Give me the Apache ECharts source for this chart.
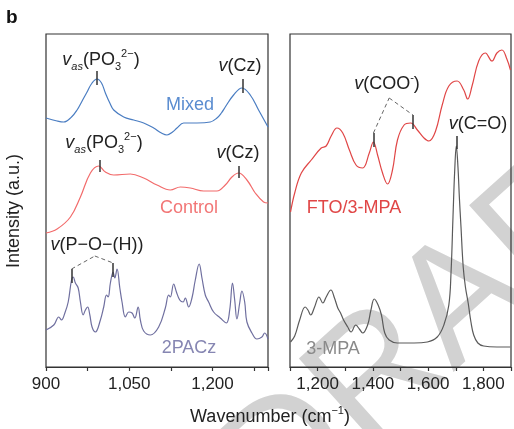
<!DOCTYPE html>
<html><head><meta charset="utf-8">
<script src="https://cdn.jsdelivr.net/npm/echarts@6/dist/echarts.min.js"></script>
<style>html,body{margin:0;padding:0;background:#fff}#c{width:514px;height:429px}</style>
</head><body><div id="c"></div>
<script>
const FONT = "'Liberation Sans', Arial, Helvetica, sans-serif";

// ---------- data (wavenumber cm^-1, intensity a.u. with vertical offsets) ----------
const mixed = [[900,249],[920,246],[932,245],[946,250],[956,257],[966,267],[974,275],[983,284],[992,288],[1000,284],[1007,274],[1015,264],[1022,257],[1040,250],[1058,247],[1076,244],[1094,239],[1108,234],[1118,232],[1128,235],[1136,239],[1148,244],[1172,244],[1196,245],[1208,249],[1216,254],[1223,260],[1238,272],[1253,279],[1268,272],[1283,257],[1300,240]];
const control = [[900,134],[920,138],[944,150],[962,170],[980,194],[995,201],[1007,195],[1022,192],[1052,193],[1076,189],[1100,182],[1124,177],[1142,180],[1160,179],[1184,176],[1208,176],[1223,182],[1235,190],[1247,194],[1262,187],[1277,174],[1292,165],[1300,164]];
const pacz = [[900,37],[914,42],[923,50],[928,47],[934,54],[940,65],[946,87],[949,90],[953,84],[958,79],[962,65],[967,52],[971,57],[975,60],[979,52],[983,40],[989,35],[998,47],[1004,60],[1009,72],[1012,70],[1016,84],[1021,95],[1024,89],[1028,98],[1033,79],[1037,65],[1043,50],[1049,55],[1055,54],[1060,49],[1066,60],[1070,47],[1076,36],[1088,32],[1103,40],[1115,59],[1121,72],[1124,70],[1130,83],[1135,75],[1141,67],[1147,65],[1151,69],[1157,60],[1163,69],[1169,87],[1176,103],[1181,89],[1187,72],[1193,65],[1202,55],[1214,49],[1225,44],[1231,57],[1236,84],[1240,67],[1244,48],[1249,64],[1253,76],[1258,65],[1262,45],[1271,34],[1280,28],[1289,30],[1294,34],[1300,28]];
const ftoMpa = [[1102,155],[1117,174],[1141,194],[1177,207],[1213,219],[1231,221],[1249,231],[1270,239],[1291,234],[1315,217],[1339,202],[1363,199],[1387,214],[1402,225],[1417,212],[1435,194],[1453,183],[1471,197],[1489,227],[1513,242],[1537,244],[1561,237],[1585,229],[1603,226],[1627,236],[1651,262],[1675,281],[1705,286],[1729,277],[1743,268],[1759,281],[1783,306],[1807,314],[1831,306],[1849,314],[1867,317],[1885,308],[1898,297]];
const mpa = [[1102,25],[1117,31],[1135,47],[1155,60],[1165,57],[1175,52],[1189,60],[1205,70],[1219,64],[1231,70],[1248,77],[1261,69],[1273,59],[1283,54],[1294,47],[1309,40],[1321,35],[1338,42],[1351,38],[1363,34],[1381,42],[1393,57],[1405,68],[1419,62],[1431,52],[1443,34],[1459,27],[1489,24],[1549,24],[1597,25],[1633,30],[1657,42],[1675,62],[1683,95],[1690,150],[1696,195],[1702,221],[1708,200],[1713,170],[1719,140],[1727,100],[1735,80],[1745,64],[1755,45],[1765,32],[1780,24],[1801,21],[1849,20],[1897,20]];

// peak marker ticks: [x, yLow, yHigh]
const mixedPeakMarks = [[991,282,296],[1254,274,288]];
const controlPeakMarks = [[997,195,207],[1247,189,201]];
const paczPeakMarks = [[946,84,98],[1021,90,104]];
const paczBracket = [[946,98],[988,111],[1021,104]];
const ftoPeakMarks = [[1402,220,234],[1545,238,252]];
const ftoBracket = [[1402,234],[1459,269],[1545,252]];
const mpaPeakMarks = [[1702,218,231]];

// axis ticks
const leftTicks = {min:900, max:1300, step:75, labelStep:150};
const rightTicks = {min:1100, max:1900, step:100, labelStep:200};

// ---------- helpers ----------
function fmt(v){ return String(v).replace(/\B(?=(\d{3})+(?!\d))/g, ','); }
function tickLines(marks){
  return marks.map(m => [{coord:[m[0],m[1]]},{coord:[m[0],m[2]]}]);
}
function bracketLines(pts){
  const out = [];
  for (let i=0;i<pts.length-1;i++){
    out.push([{coord:pts[i], lineStyle:{type:[4,3], color:'#666', width:1}},{coord:pts[i+1]}]);
  }
  return out;
}
function markLineOf(data){
  return {silent:true, symbol:'none', animation:false, label:{show:false},
    lineStyle:{color:'#333', width:1.5, type:'solid'}, emphasis:{disabled:true}, data:data};
}
function lineSeries(name, data, color, axis, extraMarks){
  return {type:'line', name:name, data:data, xAxisIndex:axis, yAxisIndex:axis,
    showSymbol:false, smooth:0.4, silent:true,
    lineStyle:{color:color, width:1.2}, itemStyle:{color:color},
    markLine: extraMarks ? markLineOf(extraMarks) : undefined, z:3};
}

const ink = '#222';
const baseRich = {
  n:{fontSize:18, fontFamily:FONT, fill:ink, lineHeight:24},
  i:{fontSize:18, fontFamily:FONT, fill:ink, lineHeight:24, fontStyle:'italic'},
  sb:{fontSize:11, fontFamily:FONT, fill:ink, lineHeight:11, verticalAlign:'bottom'},
  sbi:{fontSize:11, fontFamily:FONT, fill:ink, lineHeight:11, verticalAlign:'bottom', fontStyle:'italic'},
  sp:{fontSize:11, fontFamily:FONT, fill:ink, lineHeight:11, verticalAlign:'top'}
};
function annot(text, x, y){
  return {type:'text', x:x, y:y, z:20, silent:true,
    style:{text:text, rich:baseRich, align:'center', verticalAlign:'middle', fill:ink, font:'18px '+FONT}};
}
function plain(text, x, y, color, size){
  return {type:'text', x:x, y:y, z:20, silent:true,
    style:{text:text, fill:color, font:(size||18)+'px '+FONT, align:'center', verticalAlign:'middle'}};
}

const chart = echarts.init(document.getElementById('c'), null, {renderer:'canvas'});

function xAxisFor(idx, t){
  return {type:'value', gridIndex:idx, min:t.min, max:t.max, interval:t.step,
    axisLine:{show:true, lineStyle:{color:'#333', width:1.2}},
    axisTick:{show:true, inside:false, length:4, lineStyle:{color:'#333', width:1.2}},
    minorTick:{show:false}, splitLine:{show:false},
    axisLabel:{show:true, margin:9, color:ink, fontSize:17, fontFamily:FONT,
      formatter: v => (v % t.labelStep === 0 && v > t.min - 1 && v < t.max) ? fmt(v) : ''}
  };
}
function yAxisFor(idx){
  return {type:'value', gridIndex:idx, min:0, max:333, show:false, splitLine:{show:false}};
}

const option = {
  animation:false,
  backgroundColor:'#fff',
  grid:[
    {left:46, top:34, width:222, height:333, show:true, borderColor:'#333', borderWidth:1.2, backgroundColor:'transparent'},
    {left:290, top:34, width:222, height:333, show:true, borderColor:'#333', borderWidth:1.2, backgroundColor:'transparent'}
  ],
  xAxis:[xAxisFor(0,leftTicks), xAxisFor(1,rightTicks)],
  yAxis:[yAxisFor(0), yAxisFor(1)],
  series:[
    lineSeries('Mixed', mixed, '#4a7dc2', 0, tickLines(mixedPeakMarks)),
    lineSeries('Control', control, '#f26b6b', 0, tickLines(controlPeakMarks)),
    lineSeries('2PACz', pacz, '#6f6f9f', 0, tickLines(paczPeakMarks).concat(bracketLines(paczBracket))),
    lineSeries('FTO/3-MPA', ftoMpa, '#e04646', 1, tickLines(ftoPeakMarks).concat(bracketLines(ftoBracket))),
    lineSeries('3-MPA', mpa, '#5a5a5a', 1, tickLines(mpaPeakMarks))
  ],
  graphic:[
    {type:'text', z:-10, silent:true, x:450, y:314, rotation:42*Math.PI/180,
      style:{text:'DRAFT', fill:'#d2d2d2', font:'165px '+FONT, align:'center', verticalAlign:'middle'}},
    {type:'text', x:6, y:18, z:20, silent:true, style:{text:'b', fill:'#111', font:'bold 19px '+FONT, align:'left', verticalAlign:'middle'}},
    {type:'text', x:14, y:211, z:20, silent:true, rotation:Math.PI/2,
      style:{text:'Intensity (a.u.)', fill:ink, font:'18px '+FONT, align:'center', verticalAlign:'middle'}},
    {type:'text', x:270, y:417, z:20, silent:true,
      style:{text:'{n|Wavenumber (cm}{sp|−1}{n|)}', rich:baseRich, align:'center', verticalAlign:'middle', fill:ink, font:'18px '+FONT}},
    annot('{i|v}{sbi|as}{n|(PO}{sb|3}{sp|2−}{n|)}', 101, 60),
    annot('{i|v}{n|(Cz)}', 240, 66),
    annot('{i|v}{sbi|as}{n|(PO}{sb|3}{sp|2−}{n|)}', 104, 143),
    annot('{i|v}{n|(Cz)}', 238, 153),
    annot('{i|v}{n|(P−O−(H))}', 97, 245),
    annot('{i|v}{n|(COO}{sp|-}{n|)}', 387, 84),
    annot('{i|v}{n|(C=O)}', 478, 124),
    plain('Mixed', 190, 105, '#5a8cd0'),
    plain('Control', 189, 208, '#f27676'),
    plain('2PACz', 189, 348, '#8686b2'),
    plain('FTO/3-MPA', 354, 208, '#e04646'),
    plain('3-MPA', 333, 349, '#8a8a8a')
  ]
};
chart.setOption(option);
</script></body></html>
